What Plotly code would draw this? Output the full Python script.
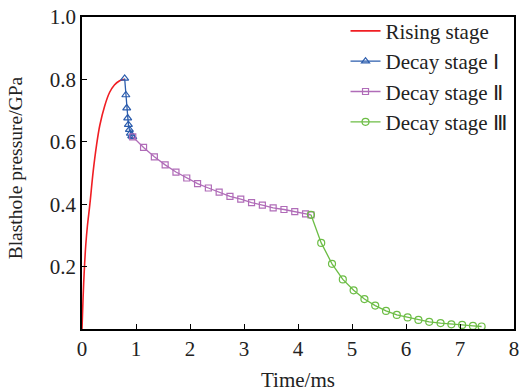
import plotly.graph_objects as go

# Rising stage
rise_t = [0.0, 0.02, 0.04, 0.07, 0.10, 0.146, 0.207, 0.27, 0.33, 0.42, 0.51, 0.60, 0.69, 0.75, 0.79]
rise_p = [0.0, 0.10, 0.18, 0.27, 0.33, 0.40, 0.505, 0.59, 0.653, 0.715, 0.758, 0.782, 0.795, 0.799, 0.80]

# Decay stage I
d1_t = [0.79, 0.812, 0.828, 0.846, 0.859, 0.878, 0.896, 0.92, 0.94]
d1_p = [0.803, 0.75, 0.708, 0.676, 0.655, 0.639, 0.627, 0.619, 0.616]

# Decay stage II
d2_t = [0.94, 1.14, 1.34, 1.54, 1.74, 1.94, 2.14, 2.34, 2.54, 2.74, 2.94, 3.14, 3.34, 3.54, 3.74, 3.94, 4.14, 4.24]
d2_p = [0.616, 0.582, 0.552, 0.526, 0.503, 0.484, 0.466, 0.452, 0.439, 0.425, 0.416, 0.405, 0.397, 0.388, 0.383, 0.376, 0.369, 0.366]

# Decay stage III
d3_t = [4.24, 4.43, 4.63, 4.83, 5.03, 5.23, 5.43, 5.63, 5.83, 6.03, 6.23, 6.43, 6.64, 6.84, 7.04, 7.24, 7.40]
d3_p = [0.366, 0.276, 0.209, 0.159, 0.124, 0.096, 0.075, 0.058, 0.045, 0.037, 0.029, 0.023, 0.019, 0.015, 0.013, 0.010, 0.008]

x_ticks = [0, 1, 2, 3, 4, 5, 6, 7, 8]
y_ticks = [0.2, 0.4, 0.6, 0.8, 1.0]
y_tick_text = ["0.2", "0.4", "0.6", "0.8", "1.0"]

FONT = "Liberation Serif"

fig = go.Figure()
fig.add_trace(go.Scatter(x=rise_t, y=rise_p, mode="lines", name="Rising stage",
                         line=dict(color="#f01e23", width=1.6, shape="spline")))
fig.add_trace(go.Scatter(x=d1_t, y=d1_p, mode="lines+markers", name="Decay stage Ⅰ",
                         line=dict(color="#2b5cad", width=1.3),
                         marker=dict(symbol="triangle-up-open", size=7, color="#2b5cad", line=dict(width=1.2))))
fig.add_trace(go.Scatter(x=d2_t, y=d2_p, mode="lines+markers", name="Decay stage Ⅱ",
                         line=dict(color="#b06cb8", width=1.3),
                         marker=dict(symbol="square-open", size=6, color="#b06cb8", line=dict(width=1.2))))
fig.add_trace(go.Scatter(x=d3_t, y=d3_p, mode="lines+markers", name="Decay stage Ⅲ",
                         line=dict(color="#6cbd45", width=1.3),
                         marker=dict(symbol="circle-open", size=7, color="#6cbd45", line=dict(width=1.2))))

fig.update_layout(
    width=523, height=392,
    margin=dict(l=82, r=4, t=17, b=59),
    paper_bgcolor="white", plot_bgcolor="white",
    font=dict(family=FONT, size=21, color="#222"),
    showlegend=True,
    legend=dict(x=0.61, y=1.02, xanchor="left", yanchor="top",
                bgcolor="rgba(0,0,0,0)", borderwidth=0,
                font=dict(family=FONT, size=21, color="#222")),
    xaxis=dict(range=[0, 8], tickvals=x_ticks, ticks="inside", ticklen=5, tickwidth=1.3,
               tickcolor="black", showline=True, linecolor="black", linewidth=1.5, mirror=True,
               showgrid=False, zeroline=False, tickfont=dict(family=FONT, size=21),
               title=dict(text="Time/ms", standoff=12, font=dict(family=FONT, size=21))),
    yaxis=dict(range=[0, 1.0], tickvals=y_ticks, ticktext=y_tick_text, ticks="inside", ticklen=5,
               tickwidth=1.3, tickcolor="black", showline=True, linecolor="black", linewidth=1.5,
               mirror=True, showgrid=False, zeroline=False, tickfont=dict(family=FONT, size=21)),
    annotations=[dict(text="Blasthole pressure/GPa", xref="paper", yref="paper",
                      x=-0.155, y=0.515, xanchor="center", yanchor="middle", textangle=-90,
                      showarrow=False, font=dict(family=FONT, size=19.5, color="#222"))],
)

fig.write_html("out.html")
